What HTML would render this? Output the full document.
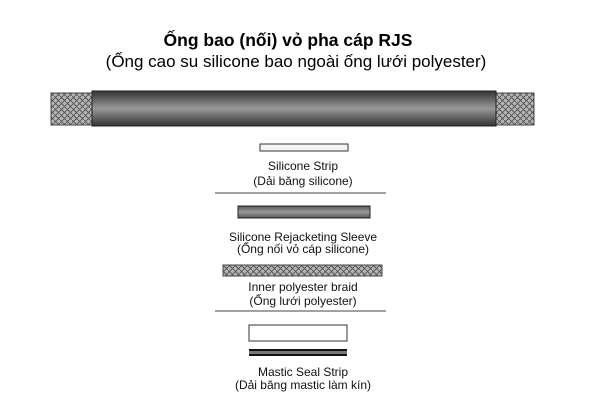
<!DOCTYPE html>
<html><head><meta charset="utf-8"><style>
body{margin:0;background:#fff;width:600px;height:400px;overflow:hidden}
</style></head><body>
<svg width="600" height="400" xmlns="http://www.w3.org/2000/svg" font-family="Liberation Sans, Arial, sans-serif">
<defs>
<pattern id="br" width="6" height="6" patternUnits="userSpaceOnUse">
<rect width="6" height="6" fill="#b4b4b4"/>
<path d="M0 3 L3 0 M3 6 L6 3 M0 0 L3 3 M3 3 L6 6" stroke="#555" stroke-width="0.9"/>
</pattern>
<linearGradient id="sl" x1="0" y1="0" x2="0" y2="1">
<stop offset="0" stop-color="#333"/><stop offset="0.5" stop-color="#999"/><stop offset="1" stop-color="#333"/>
</linearGradient>
<linearGradient id="sl2" x1="0" y1="0" x2="0" y2="1">
<stop offset="0" stop-color="#555"/><stop offset="0.5" stop-color="#999"/><stop offset="1" stop-color="#555"/>
</linearGradient>
</defs>
<text x="288" y="46" text-anchor="middle" font-size="17.5" font-weight="bold">Ống bao (nối) vỏ pha cáp RJS</text>
<text x="296" y="67" text-anchor="middle" font-size="17">(Ống cao su silicone bao ngoài ống lưới polyester)</text>
<rect x="51" y="93" width="42" height="32" fill="url(#br)" stroke="#444"/>
<rect x="495" y="93" width="39" height="32" fill="url(#br)" stroke="#444"/>
<rect x="92" y="91" width="404" height="35" fill="url(#sl)" stroke="#222"/>
<rect x="260" y="144" width="88" height="7" fill="#f4f4f4" stroke="#333"/>
<g font-size="12" text-anchor="middle" fill="#111">
<text x="303" y="170">Silicone Strip</text>
<text x="303" y="185">(Dải băng silicone)</text>
<text x="303" y="241">Silicone Rejacketing Sleeve</text>
<text x="303" y="253">(Ống nối vỏ cáp silicone)</text>
<text x="303" y="291">Inner polyester braid</text>
<text x="303" y="305">(Ống lưới polyester)</text>
<text x="303" y="376">Mastic Seal Strip</text>
<text x="303" y="389">(Dải băng mastic làm kín)</text>
</g>
<line x1="215" y1="193" x2="386" y2="193" stroke="#444"/>
<rect x="238" y="206" width="132" height="12" fill="url(#sl2)" stroke="#222"/>
<rect x="223" y="265" width="159" height="11" fill="url(#br)" stroke="#444"/>
<line x1="215" y1="311" x2="386" y2="311" stroke="#444"/>
<rect x="249" y="325" width="98" height="16" fill="#fff" stroke="#333"/>
<rect x="249" y="349" width="98" height="7" fill="#111"/>
<rect x="249" y="351" width="98" height="3" fill="#777"/>
</svg>
</body></html>
